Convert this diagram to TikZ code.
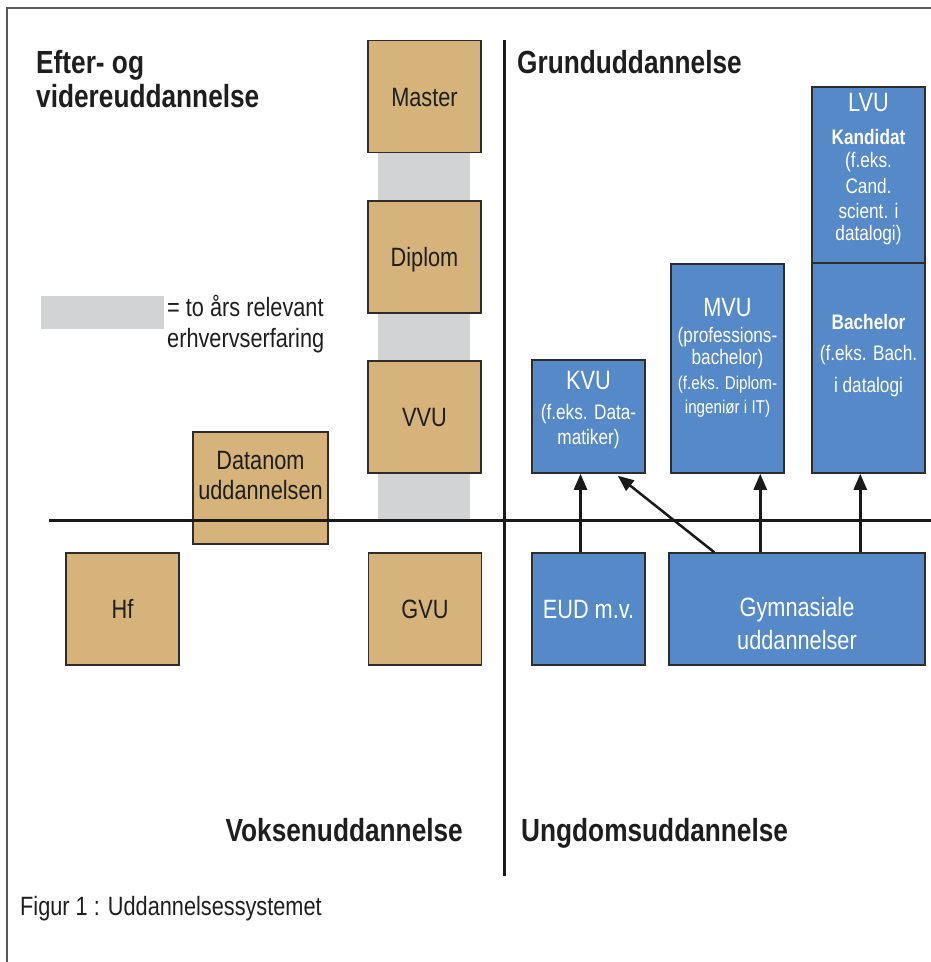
\documentclass[tikz,border=0pt]{standalone}
\usepackage{fontspec}
\setmainfont{Liberation Sans}[FakeStretch=0.82]
\usetikzlibrary{arrows.meta,calc}
\definecolor{tanfill}{RGB}{214,179,122}
\definecolor{bluefill}{RGB}{85,137,199}
\definecolor{expgray}{RGB}{209,211,212}
\definecolor{edgecol}{RGB}{45,45,45}
\definecolor{inktext}{RGB}{30,30,30}
\newcommand\fsHead{\fontsize{32}{36}\selectfont\bfseries}
\newcommand\fsBox{\fontsize{26.5}{30}\selectfont}
\newcommand\fsMid{\fontsize{21}{25}\selectfont}
\newcommand\fsSm{\fontsize{18.5}{22}\selectfont}
\tikzset{
  tanbox/.style={draw=edgecol, line width=1.5pt, fill=tanfill, inner sep=0pt,
    minimum width=113pt, minimum height=112pt, font=\fsBox, text=inktext,
    text height=19pt, text depth=0pt},
  bluebox/.style={draw=edgecol, line width=1.5pt, fill=bluefill, inner sep=0pt,
    text=white, font=\fsBox, text height=19pt, text depth=0pt},
  txt/.style={inner sep=0pt, anchor=base},
  wtxt/.style={inner sep=0pt, anchor=base, text=white},
  axisline/.style={line width=3pt, draw=black!90},
  arr/.style={line width=2.5pt, draw=black!90, -{Triangle[length=16pt,width=13pt]}},
}
\begin{document}
\begin{tikzpicture}[x=1pt,y=-1pt]
\useasboundingbox (0,0) rectangle (931,962);
% frame
\draw[line width=1.2pt, black!65] (7,962) -- (7,8) -- (931,8);
% experience bar
\fill[expgray] (378,153) rectangle (470,520);
% legend
\node[fill=expgray, minimum width=123pt, minimum height=33pt, inner sep=0pt] (leg) at (102.5,312.5) {};
\node[txt, anchor=base west, font=\fsBox, text=inktext] (legt1) at (167,316) {= to års relevant};
\node[txt, anchor=base west, font=\fsBox, text=inktext] (legt2) at (167,347) {erhvervserfaring};
% tan boxes
\node[tanbox] (master) at (424.5,96.5) {Master};
\node[tanbox] (diplom) at (424.5,257) {Diplom};
\node[tanbox] (vvu) at (424.5,417) {VVU};
\node[tanbox] (gvu) at (425,609) {GVU};
\node[tanbox] (hf) at (122.5,609) {Hf};
\node[tanbox, minimum width=135pt] (datanom) at (260.5,488) {};
\node[txt, font=\fsBox, text=inktext] (dat1) at (260.5,469) {Datanom};
\node[txt, font=\fsBox, text=inktext] (dat2) at (260.5,499) {uddannelsen};
% blue boxes
\node[bluebox, minimum width=113pt, minimum height=113pt] (kvu) at (588.5,416.5) {};
\node[bluebox, minimum width=113pt, minimum height=112pt] (eud) at (588.5,609) {EUD m.v.};
\node[bluebox, minimum width=113pt, minimum height=209pt] (mvu) at (727.5,368.5) {};
\node[bluebox, minimum width=113pt, minimum height=176pt] (lvua) at (868.5,175) {};
\node[bluebox, minimum width=113pt, minimum height=210pt] (lvub) at (868.5,368) {};
\node[bluebox, minimum width=256pt, minimum height=112pt] (gym) at (797,609) {};
% blue box texts
\node[wtxt, font=\fsBox] (kvut1) at (588.5,389) {KVU};
\node[wtxt, font=\fsMid] (kvut2) at (588.5,419) {(f.eks. Data-};
\node[wtxt, font=\fsMid] (kvut3) at (588.5,444) {matiker)};
\node[wtxt, font=\fsBox] (mvut1) at (727.5,316) {MVU};
\node[wtxt, font=\fsMid] (mvut2) at (727.5,342.5) {(professions-};
\node[wtxt, font=\fsMid] (mvut3) at (727.5,364.5) {bachelor)};
\node[wtxt, font=\fsSm] (mvut4) at (727.5,389.5) {(f.eks. Diplom-};
\node[wtxt, font=\fsSm] (mvut5) at (727.5,413.5) {ingeniør i IT)};
\node[wtxt, font=\fsBox] (lvut1) at (868.5,111) {LVU};
\node[wtxt, font=\fsMid\bfseries] (lvut2) at (868.5,144.5) {Kandidat};
\node[wtxt, font=\fsMid] (lvut3) at (868.5,167.5) {(f.eks.};
\node[wtxt, font=\fsMid] (lvut4) at (868.5,193.5) {Cand.};
\node[wtxt, font=\fsMid] (lvut5) at (868.5,218.5) {scient. i};
\node[wtxt, font=\fsMid] (lvut6) at (868.5,240.5) {datalogi)};
\node[wtxt, font=\fsMid\bfseries] (lvut7) at (868.5,329.5) {Bachelor};
\node[wtxt, font=\fsMid] (lvut8) at (868.5,360.5) {(f.eks. Bach.};
\node[wtxt, font=\fsMid] (lvut9) at (868.5,392.5) {i datalogi};
\node[wtxt, font=\fsBox] (gymt1) at (797,616) {Gymnasiale};
\node[wtxt, font=\fsBox] (gymt2) at (797,649) {uddannelser};
% axes
\draw[axisline] (49,520) -- (931,520);
\draw[axisline] (504,40) -- (504,876);
% arrows
\draw[arr] ($(eud.north)+(-8,0)$) -- ($(kvu.south)+(-8,0)$);
\draw[arr] ($(gym.north west)+(46,0)$) -- ($(kvu.south east)+(-28,2)$);
\draw[arr] ($(gym.north west)+(92,0)$) -- ($(mvu.south west)+(90,0)$);
\draw[arr] ($(gym.north west)+(192,0)$) -- ($(lvub.south west)+(49,0)$);
% headings
\node[txt, anchor=base west, font=\fsHead, text=inktext] (h1) at (36,73) {Efter- og};
\node[txt, anchor=base west, font=\fsHead, text=inktext] (h2) at (36,107) {videreuddannelse};
\node[txt, anchor=base west, font=\fsHead, text=inktext] (h3) at (517,73) {Grunduddannelse};
\node[txt, anchor=base east, font=\fsHead, text=inktext] (h4) at (463,841) {Voksenuddannelse};
\node[txt, anchor=base west, font=\fsHead, text=inktext] (h5) at (521,841) {Ungdomsuddannelse};
\node[txt, anchor=base west, font=\fsBox, text=inktext] (fig) at (20,915) {Figur 1 : Uddannelsessystemet};
\end{tikzpicture}
\end{document}
